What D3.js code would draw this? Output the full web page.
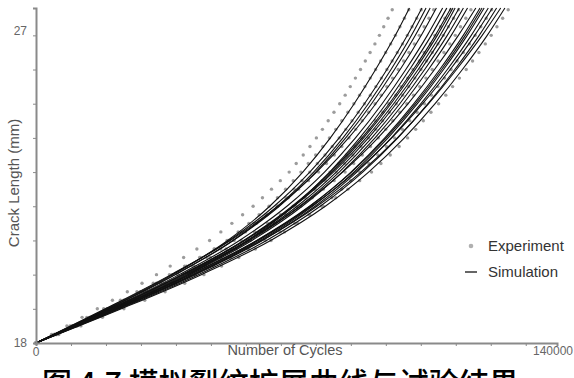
<!DOCTYPE html>
<html>
<head>
<meta charset="utf-8">
<script src="https://cdn.jsdelivr.net/npm/d3@7/dist/d3.min.js"></script>
<style>
  html, body { margin: 0; padding: 0; background: #fff; }
  svg { display: block; }
</style>
</head>
<body>
<svg id="chart" width="574" height="378"></svg>
<script>
// Crack length (mm) at which each simulated run is sampled
const crackLevels = [18, 19, 20, 21, 22, 23, 24, 25, 26, 27, 27.8];

// Simulated crack growth runs: cycles needed to reach each crack level
const simulationRuns = [
  [0, 19300, 36800, 51500, 62800, 71700, 79100, 85500, 91260, 96570, 100350],
  [0, 18880, 36550, 51890, 63980, 73560, 81470, 88260, 94300, 99790, 103700],
  [0, 19600, 37500, 52900, 64900, 74600, 82500, 89300, 95400, 100900, 104810],
  [0, 19290, 37340, 53010, 65360, 75150, 83220, 90160, 96330, 101940, 105930],
  [0, 18600, 36300, 52200, 65000, 75400, 84000, 91300, 97850, 103540, 107600],
  [0, 19890, 38510, 54680, 67420, 77520, 85850, 93000, 99370, 105150, 109270],
  [0, 21300, 40800, 56800, 69200, 78900, 87000, 94100, 100390, 106230, 110390],
  [0, 20300, 39300, 55800, 68800, 79100, 87600, 94900, 101400, 107300, 111500],
  [0, 20400, 39500, 56080, 69140, 79500, 88040, 95370, 101910, 107840, 112060],
  [0, 20100, 39200, 56000, 69300, 79900, 88700, 96100, 102700, 108600, 112620],
  [0, 20710, 40090, 56920, 70180, 80680, 89350, 96800, 103430, 109450, 113730],
  [0, 20910, 40480, 57470, 70860, 81470, 90230, 97750, 104440, 110520, 114850],
  [0, 21110, 40870, 58030, 71550, 82260, 91100, 98700, 105460, 111590, 115960],
  [0, 20200, 39700, 57000, 71000, 82400, 91900, 100000, 107100, 113500, 118190],
  [0, 21720, 42050, 59710, 73620, 84640, 93730, 101540, 108500, 114810, 119310],
  [0, 21200, 41500, 59300, 73500, 84800, 94100, 102000, 109010, 115350, 119860],
  [0, 21920, 42440, 60260, 74300, 85430, 94610, 102490, 109510, 115880, 120420],
  [0, 22130, 42840, 60820, 74990, 86220, 95480, 103440, 110530, 116960, 121540],
  [0, 21000, 41300, 59400, 74000, 85800, 95600, 103900, 111300, 117900, 122650],
  [0, 22530, 43620, 61940, 76370, 87800, 97240, 105340, 112550, 119100, 123770],
  [0, 21600, 42300, 60700, 75500, 87300, 97100, 105500, 113000, 119900, 124880],
  [0, 22940, 44410, 63050, 77740, 89380, 98990, 107240, 114580, 121250, 126000]
];

// Crack length (mm) at each experimental reading
const expCrack = [18.00, 18.25, 18.50, 18.75, 19.00, 19.25, 19.50, 19.75,
                  20.00, 20.25, 20.50, 20.75, 21.00, 21.25, 21.50, 21.75,
                  22.00, 22.25, 22.50, 22.75, 23.00, 23.25, 23.50, 23.75,
                  24.00, 24.25, 24.50, 24.75, 25.00, 25.25, 25.50, 25.75,
                  26.00, 26.25, 26.50, 26.75, 27.00, 27.25, 27.50, 27.75];

// Measured cycles at each crack reading, one array per specimen
const experimentRuns = [
  [0, 4180, 8300, 12380, 16480, 20540, 24540, 28490, 32380, 36060, 39670, 43230, 46650, 49670, 52630, 55520,
   58340, 60850, 63280, 65650, 68030, 69920, 71810, 73620, 75340, 76970, 78520, 80070, 81610, 83080, 84450, 85830,
   87200, 88490, 89780, 91070, 92280, 93440, 94600, 95720],
  [0, 4930, 9730, 14420, 19080, 23630, 28050, 32360, 36550, 40440, 44220, 47880, 51340, 54320, 57190, 59950,
   62610, 64890, 67060, 69130, 71190, 73170, 75150, 77040, 78840, 80550, 82170, 83790, 85410, 86940, 88380, 89820,
   91260, 92610, 93960, 95310, 96570, 97790, 99000, 100170],
  [0, 5130, 10140, 15010, 19850, 24570, 29160, 33620, 37960, 41990, 45890, 49670, 53230, 56300, 59250, 62090,
   64810, 67140, 69360, 71470, 73560, 75610, 77660, 79610, 81470, 83240, 84910, 86580, 88260, 89840, 91330, 92810,
   94300, 95700, 97090, 98490, 99790, 101050, 102300, 103510],
  [0, 4600, 9150, 13650, 18190, 22680, 27120, 31510, 35840, 39940, 43980, 47960, 51780, 55170, 58500, 61760,
   64950, 67780, 70540, 73230, 75940, 78050, 80160, 82180, 84100, 85920, 87650, 89380, 91100, 92740, 94270, 95810,
   97340, 98780, 100220, 101660, 103010, 104300, 105600, 106850],
  [0, 5600, 11040, 16340, 21600, 26710, 31680, 36500, 41190, 45520, 49710, 53770, 57590, 60860, 64000, 67010,
   69900, 72360, 74690, 76910, 79000, 81400, 83400, 85700, 87500, 89600, 91200, 93200, 94800, 96700, 98100, 99900,
   101300, 103000, 104300, 106000, 107200, 108700, 109900, 111400],
  [0, 4910, 9760, 14570, 19410, 24190, 28920, 33590, 38200, 42550, 46840, 51070, 55130, 58730, 62250, 65700,
   69080, 72070, 74990, 77830, 80680, 82930, 85170, 87310, 89350, 91290, 93130, 94960, 96800, 98530, 100160, 101800,
   103430, 104960, 106490, 108020, 109450, 110820, 112200, 113530],
  [0, 5070, 10070, 15030, 20020, 24950, 29820, 34630, 39380, 43860, 48280, 52630, 56800, 60500, 64130, 67670,
   71140, 74220, 77210, 80120, 83060, 85370, 87680, 89880, 91980, 93980, 95870, 97760, 99650, 101430, 103110, 104790,
   106470, 108050, 109620, 111200, 112670, 114080, 115500, 116870],
  [0, 6120, 12070, 17870, 23630, 29230, 34680, 39970, 45120, 49880, 54490, 58960, 63170, 66780, 70250, 73580,
   76780, 79510, 82100, 84570, 87010, 89430, 91850, 94160, 96360, 98450, 100430, 102410, 104390, 106260, 108020, 109780,
   111540, 113190, 114840, 116490, 118030, 119520, 121000, 122430],
  [0, 5480, 10910, 16270, 21680, 27030, 32310, 37530, 42680, 47550, 52340, 57060, 61600, 65620, 69560, 73420,
   77190, 80550, 83810, 86980, 90170, 92680, 95190, 97580, 99860, 102030, 104080, 106130, 108190, 110120, 111950, 113770,
   115600, 117310, 119020, 120730, 122320, 123860, 125400, 126880]
];

// Axis labelling: only the end values carry text
const xTickLabels = ["0", "140000"];
const yTickLabels = ["18", "27"];
const xMinorStep = 9400;
const yMinorStep = 1;

const svg = d3.select("#chart");
const font = "'Liberation Sans', Arial, sans-serif";

const x = d3.scaleLinear().domain([0, 140000]).range([36, 557]);
const y = d3.scaleLinear().domain([18, 27.8]).range([343, 8]);

// Experimental readings as grey dots
const dots = svg.append("g");
experimentRuns.forEach(run => {
  dots.selectAll(null)
    .data(run.map((n, i) => [n, expCrack[i]]))
    .join("circle")
    .attr("cx", d => x(d[0]))
    .attr("cy", d => y(d[1]))
    .attr("r", 1.7)
    .attr("fill", "#9c9c9c");
});

// Simulated runs as thin black curves
const line = d3.line()
  .x(d => x(d[0]))
  .y(d => y(d[1]))
  .curve(d3.curveMonotoneX);

svg.append("g").selectAll("path")
  .data(simulationRuns.map(run => run.map((n, i) => [n, crackLevels[i]])))
  .join("path")
  .attr("d", line)
  .attr("fill", "none")
  .attr("stroke", "#111")
  .attr("stroke-width", 1.1);

// Axes
const xAxis = d3.axisBottom(x)
  .tickValues(d3.range(0, 140000, xMinorStep))
  .tickSize(3)
  .tickFormat("");
const yAxis = d3.axisLeft(y)
  .tickValues(d3.range(18, 27.5, yMinorStep))
  .tickSize(3)
  .tickFormat("");

const gx = svg.append("g").attr("transform", `translate(0,${y(18)})`).call(xAxis);
const gy = svg.append("g").attr("transform", `translate(${x(0)},0)`).call(yAxis);
[gx, gy].forEach(g => {
  g.select(".domain").attr("stroke", "#8a8a8a").attr("stroke-width", 2);
  g.selectAll(".tick line").attr("stroke", "#8a8a8a").attr("stroke-width", 1);
});

// End labels on the axes
svg.append("text").attr("x", x(0)).attr("y", 356)
  .attr("text-anchor", "middle").attr("font-family", font).attr("font-size", 12)
  .attr("fill", "#666").text(xTickLabels[0]);
svg.append("text").attr("x", 553).attr("y", 355)
  .attr("text-anchor", "middle").attr("font-family", font).attr("font-size", 12)
  .attr("fill", "#666").text(xTickLabels[1]);
svg.append("text").attr("x", 27).attr("y", 347)
  .attr("text-anchor", "end").attr("font-family", font).attr("font-size", 12)
  .attr("fill", "#666").text(yTickLabels[0]);
svg.append("text").attr("x", 27).attr("y", 35)
  .attr("text-anchor", "end").attr("font-family", font).attr("font-size", 12)
  .attr("fill", "#666").text(yTickLabels[1]);

// Axis titles
svg.append("text").attr("x", 285).attr("y", 355)
  .attr("text-anchor", "middle").attr("font-family", font).attr("font-size", 14.5)
  .attr("fill", "#555").text("Number of Cycles");
svg.append("text")
  .attr("transform", "translate(19,183) rotate(-90)")
  .attr("text-anchor", "middle").attr("font-family", font).attr("font-size", 15)
  .attr("fill", "#555").text("Crack Length (mm)");

// Legend
const legend = svg.append("g");
legend.append("circle").attr("cx", 471).attr("cy", 246).attr("r", 2.3).attr("fill", "#b0b0b0");
legend.append("text").attr("x", 488).attr("y", 251)
  .attr("font-family", font).attr("font-size", 15).attr("fill", "#333").text("Experiment");
legend.append("line").attr("x1", 465).attr("x2", 477).attr("y1", 272).attr("y2", 272)
  .attr("stroke", "#333").attr("stroke-width", 1.5);
legend.append("text").attr("x", 488).attr("y", 277)
  .attr("font-family", font).attr("font-size", 15).attr("fill", "#333").text("Simulation");

// Figure caption
svg.append("text").attr("x", 42).attr("y", 394)
  .attr("font-family", "'Noto Sans CJK SC', sans-serif").attr("font-size", 30)
  .attr("font-weight", 500).attr("fill", "#000")
  .text("图 4.7  模拟裂纹扩展曲线与试验结果");
</script>
</body>
</html>
